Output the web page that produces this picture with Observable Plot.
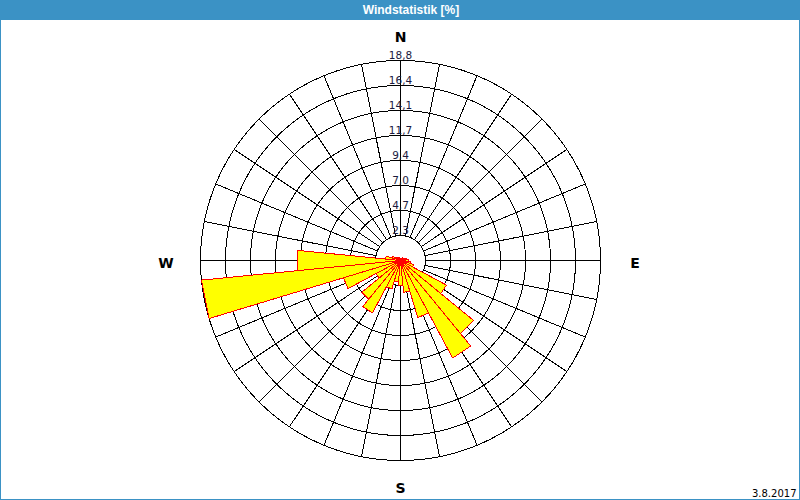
<!DOCTYPE html>
<html>
<head>
<meta charset="utf-8">
<script src="https://cdn.jsdelivr.net/npm/d3@7"></script>
<script src="https://cdn.jsdelivr.net/npm/@observablehq/plot@0.6"></script>
<style>
  body { margin: 0; background: #fff; }
  #frame { position: relative; width: 800px; height: 500px; box-sizing: border-box;
           border: 1px solid #3b92c5; border-top: none; overflow: hidden; background: #fff; }
  #title { height: 20px; background: #3b92c5; color: #fff; margin: 0 -1px;
           font: bold 12px "Liberation Sans", "DejaVu Sans", sans-serif; line-height: 20px;
           text-align: center; padding-left: 22px; }
  #chart svg { display: block; }
</style>
</head>
<body>
<div id="frame">
  <div id="title">Windstatistik [%]</div>
  <div id="chart"></div>
</div>
<script>
// ---- data ----
const sectorAngles = [0, 11.25, 22.5, 33.75, 45, 56.25, 67.5, 78.75,
                      90, 101.25, 112.5, 123.75, 135, 146.25, 157.5, 168.75,
                      180, 191.25, 202.5, 213.75, 225, 236.25, 247.5, 258.75,
                      270, 281.25, 292.5, 303.75, 315, 326.25, 337.5, 348.75];
const windPercent = [0.2, 0.2, 0.2, 0.3, 0.3, 0.3, 0.4, 0.6,
                     0.8, 1.0, 1.3, 4.9, 8.9, 10.4, 5.6, 3.0,
                     2.4, 2.0, 2.8, 5.6, 4.7, 2.6, 5.6, 18.8,
                     9.7, 1.4, 0.8, 0.5, 0.4, 0.3, 0.3, 0.2];
const ringValues = [2.35, 4.7, 7.05, 9.4, 11.75, 14.1, 16.45, 18.8];
const ringLabels = ["2,3", "4,7", "7,0", "9,4", "11,7", "14,1", "16,4", "18,8"];
const compassLabels = ["N", "E", "S", "W"];
const compassAngles = [0, 90, 180, 270];
const dateLabel = "3.8.2017";

// ---- layout ----
const W = 798, H = 479, cx = 399, cy = 240, R = 200;
const maxValue = ringValues[ringValues.length - 1];
const k = R / maxValue;             // px per percent
const sectorWidth = 360 / sectorAngles.length;
const compassRadiusV = 225.5 / k, compassRadiusH = 234.5 / k;

const rad = d => d * Math.PI / 180;
const pos = (v, deg) => ({x: v * Math.sin(rad(deg)), y: v * Math.cos(rad(deg))});

// rings
const ringPts = [];
ringValues.forEach((v, i) => {
  for (let a = 0; a < 360; a += 1) ringPts.push({...pos(v, a), ring: i});
});
// spokes
const spokes = sectorAngles.map(a => {
  const p1 = pos(ringValues[0], a), p2 = pos(maxValue, a);
  return {x1: p1.x, y1: p1.y, x2: p2.x, y2: p2.y};
});
// bars (triangles)
const barPts = [];
sectorAngles.forEach((a, i) => {
  const v = windPercent[i];
  barPts.push({x: 0, y: 0, s: i});
  barPts.push({...pos(v, a - sectorWidth / 2), s: i});
  barPts.push({...pos(v, a + sectorWidth / 2), s: i});
});
const ringText = ringValues.map((v, i) => ({y: v, label: ringLabels[i]}));
const compass = compassLabels.map((l, i) => {
  const a = compassAngles[i];
  const r = (a % 180 === 0) ? compassRadiusV : compassRadiusH;
  return {...pos(r, a), label: l};
});

const chart = Plot.plot({
  width: W, height: H, margin: 0,
  x: {domain: [-cx / k, (W - cx) / k], axis: null},
  y: {domain: [-(H - cy) / k, cy / k], axis: null},
  style: {fontFamily: "DejaVu Sans", background: "white", color: "black"},
  marks: [
    Plot.line(ringPts, {x: "x", y: "y", z: "ring", curve: "linear-closed",
      stroke: "black", strokeWidth: 1, shapeRendering: "crispEdges"}),
    Plot.link(spokes, {x1: "x1", y1: "y1", x2: "x2", y2: "y2", stroke: "black",
      strokeWidth: 1, shapeRendering: "crispEdges"}),
    Plot.line(barPts, {x: "x", y: "y", z: "s", curve: "linear-closed",
      fill: "#ffff00", stroke: "#ff0000", strokeWidth: 1, strokeLinejoin: "miter",
      shapeRendering: "crispEdges"}),
    Plot.text(ringText, {x: 0, y: "y", text: "label", lineAnchor: "bottom", dy: -2,
      fontSize: 10.5, fill: "#1a1a40"}),
    Plot.text(compass, {x: "x", y: "y", text: "label", lineAnchor: "middle", dy: 3,
      fontSize: 14, fontWeight: "bold", fill: "black"}),
    Plot.text([dateLabel], {frameAnchor: "bottom-right", text: d => d, textAnchor: "end",
      lineAnchor: "bottom", dx: -3, dy: -3, fontSize: 10, fill: "black"})
  ]
});
document.getElementById("chart").appendChild(chart);
</script>
</body>
</html>
